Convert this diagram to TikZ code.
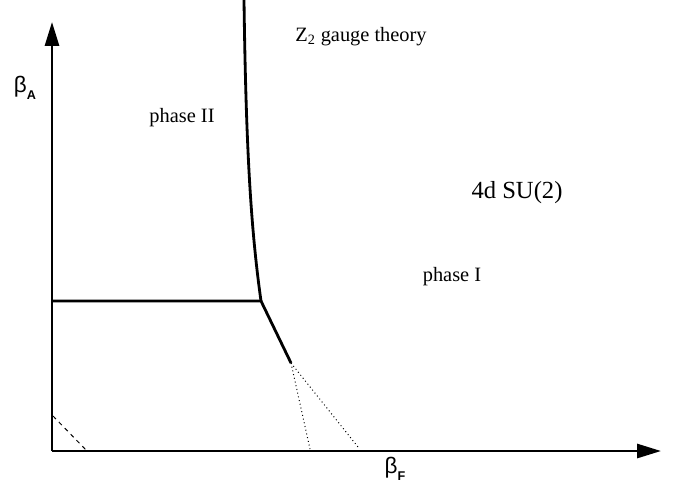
\documentclass[tikz,border=0pt]{standalone}
\usepackage{fontspec}
\setmainfont{Liberation Serif}
\newfontfamily\greeksans{Liberation Sans}
\usetikzlibrary{arrows.meta}

\begin{document}
\begin{tikzpicture}[x=0.025cm, y=-0.025cm,
                    axis/.style={-{Triangle[length=17pt, width=10pt]}, line width=1.8pt},
                    border/.style={line width=2pt},
                    guess/.style={dotted, line width=0.7pt},
                    lab/.style={inner sep=0pt, font=\fontsize{14.5}{17}\selectfont},
                    blab/.style={inner sep=0pt, font=\greeksans\fontsize{16}{18}\selectfont}]
  \useasboundingbox (0,0) rectangle (677,482);
  % axes
  \coordinate (O) at (52,451);
  \coordinate (ytip) at (52,22);
  \coordinate (xtip) at (661,451);
  \draw[axis] (O) -- (ytip);
  \draw[axis] (O) -- (xtip);
  \node[blab] (bA) at (25,88) {β\raisebox{-0.55ex}{\fontsize{9}{10}\selectfont\bfseries A}};
  \node[blab] (bF) at (395,469) {β\raisebox{-0.55ex}{\fontsize{9}{10}\selectfont\bfseries F}};
  % phase boundaries
  \coordinate (top) at (244,0);
  \coordinate (J) at (261,301);
  \coordinate (L) at (52,301);
  \coordinate (E) at (291,363);
  \draw[border] (top) .. controls (246,150) and (251,230) .. (J);
  \draw[border] (L) -- (J) -- (E);
  \coordinate (d1) at (310,449);
  \coordinate (d2) at (358,447);
  \draw[guess] (E) -- (d1);
  \draw[guess] (E) -- (d2);
  \coordinate (a1) at (53,416);
  \coordinate (a2) at (87,451);
  \draw[dashed, line width=0.7pt] (a1) -- (a2);
  % labels
  \node[lab] (z2) at (361,37) {Z\textsubscript{2} gauge theory};
  \node[lab] (ph2) at (182,118) {phase II};
  \node[lab, font=\fontsize{17.5}{20}\selectfont] (su2) at (517,193) {4d SU(2)};
  \node[lab] (ph1) at (452,277) {phase I};
\end{tikzpicture}
\end{document}
